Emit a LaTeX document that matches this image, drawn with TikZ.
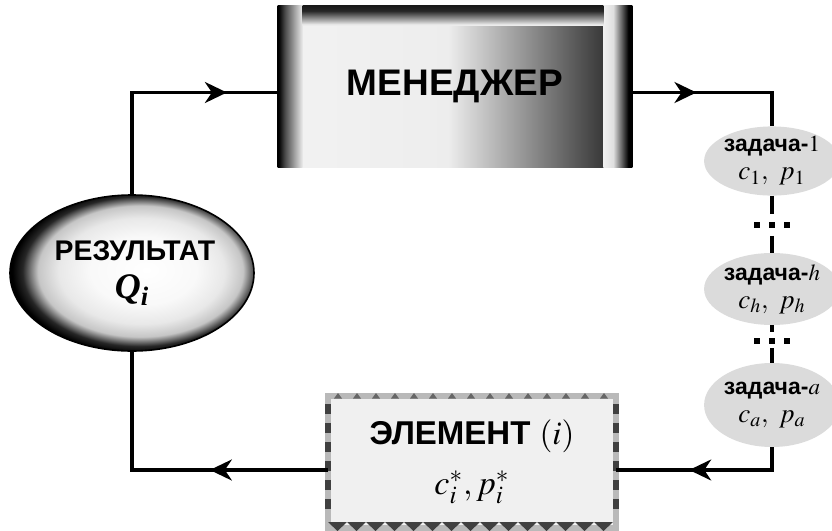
\documentclass[tikz,border=0pt]{standalone}
\usepackage{amsmath}
\usepackage{mathptmx}
\usepackage{fontspec}
\setsansfont{Liberation Sans}
\newfontfamily\serifvar{Liberation Serif}
\usetikzlibrary{arrows.meta,positioning,calc,shapes,decorations.markings}

\pgfdeclarehorizontalshading{mgrfill}{100bp}{color(0bp)=(gray!10); color(25bp)=(gray!10); color(49bp)=(gray!14); color(71bp)=(black!78); color(100bp)=(black!80)}
\pgfdeclarehorizontalshading{mgrleft}{100bp}{color(0bp)=(black); color(27bp)=(black); color(40bp)=(black!70); color(75bp)=(gray!15); color(100bp)=(gray!15)}
\pgfdeclarehorizontalshading{mgrright}{100bp}{color(0bp)=(gray!12); color(25bp)=(gray!12); color(42bp)=(gray!25); color(68bp)=(black); color(100bp)=(black)}
\pgfdeclareverticalshading{mgrtop}{100bp}{color(0bp)=(gray!15); color(28bp)=(gray!15); color(36bp)=(gray!55); color(62bp)=(black!85); color(100bp)=(black)}
\pgfdeclareradialshading{ball}{\pgfpoint{3bp}{1bp}}{color(0bp)=(white); color(11bp)=(gray!5); color(17bp)=(gray!18); color(21bp)=(gray!45); color(24bp)=(black!85); color(26bp)=(black); color(50bp)=(black)}

\newcommand{\boldvar}[1]{\text{\serifvar\bfseries\itshape #1}}

\begin{document}
\begin{tikzpicture}[x=0.5pt,y=-0.5pt,
	flow/.style={line width=1.6pt},
	midarrow/.style={postaction={decorate},decoration={markings,mark=at position #1 with {\arrow{Stealth[length=11pt,width=10.5pt,inset=3.5pt]}}}},
	manager/.style={rectangle,minimum width=177pt,minimum height=80.5pt,inner sep=0pt,shading=mgrfill,font=\sffamily\bfseries\fontsize{18.5}{22}\selectfont},
	result/.style={ellipse,minimum width=122pt,minimum height=78pt,inner sep=0pt,shading=ball,draw=black,line width=0.8pt,align=center,font=\sffamily\bfseries\fontsize{14.2}{17}\selectfont},
	task/.style={ellipse,fill=gray!28,minimum width=60pt,inner sep=0pt,align=center,font=\sffamily\bfseries\fontsize{11.5}{14}\selectfont},
	element/.style={rectangle,minimum width=144pt,minimum height=66pt,inner sep=0pt,outer sep=0pt,fill=gray!12,draw=gray!55,line width=3pt,align=center,font=\sffamily\bfseries\fontsize{16.5}{19}\selectfont}]
	\useasboundingbox (0,0) rectangle (832,531);

	\node[manager] (mgr) at (455,86.5) {МЕНЕДЖЕР};
	\shade[shading=mgrleft] (mgr.south west) rectangle ([xshift=12.5pt]mgr.north west);
	\shade[shading=mgrright] ([xshift=-14.5pt]mgr.south east) rectangle (mgr.north east);
	\shade[shading=mgrtop] ([xshift=12.5pt,yshift=-10pt]mgr.north west) rectangle ([xshift=-14.5pt]mgr.north east);

	\node[result] (res) at (132,273) {\hspace*{3pt}РЕЗУЛЬТАТ\\[2pt]{\fontsize{18}{20}\selectfont$\boldvar{Q}_{\boldvar{i}}$}};

	\node[task,minimum height=34pt] (t1) at (772,161) {задача-$1$\\{\fontsize{13.5}{15}\selectfont$c_1,\ p_1$}};
	\node[task,minimum height=36pt] (th) at (772,289) {задача-$h$\\{\fontsize{13.5}{15}\selectfont$c_h,\ p_h$}};
	\node[task,minimum height=42pt] (ta) at (772,405) {задача-$a$\\{\fontsize{13.5}{15}\selectfont$c_a,\ p_a$}};

	\node[element] (el) at (472,462) {ЭЛЕМЕНТ $(i)$\\[6pt]{\fontsize{17}{19}\selectfont$c_i^*, p_i^*$}};
	\begin{scope}[shift={(el.north west)}]
		\foreach \x in {10,29,...,280} \fill[black!60] (\x-4,2.5) -- (\x+4,2.5) -- (\x,-3) -- cycle;
		\foreach \x in {0,19,...,280} \fill[black!75] (\x,126) -- (\x+19,126) -- (\x+9.5,135) -- cycle;
		\foreach \y in {8,27,...,120} {
			\fill[black!75] (-3,\y) rectangle (3,\y+10);
			\fill[black!75] (285,\y) rectangle (291,\y+10);
		}
	\end{scope}

	\draw[flow,midarrow=0.795] (res.north) |- ([yshift=-3pt]mgr.west);
	\draw[flow,midarrow=0.37] ([yshift=-3pt]mgr.east) -| (t1.north);
	\draw[flow,dash pattern=on 9pt off 11pt on 10pt] (t1.south) -- (th.north);
	\draw[flow,dash pattern=on 3.5pt off 8pt on 8pt] (th.south) -- (ta.north);
	\foreach \dx in {-15,0,15} {
		\fill (772+\dx-3,222) rectangle ++(6,6);
		\fill (772+\dx-3,338) rectangle ++(6,6);
	}
	\draw[flow,midarrow=0.59] (ta.south) |- ([yshift=-4pt]el.east);
	\draw[flow,midarrow=0.376] ([yshift=-4pt]el.west) -| (res.south);
\end{tikzpicture}
\end{document}
